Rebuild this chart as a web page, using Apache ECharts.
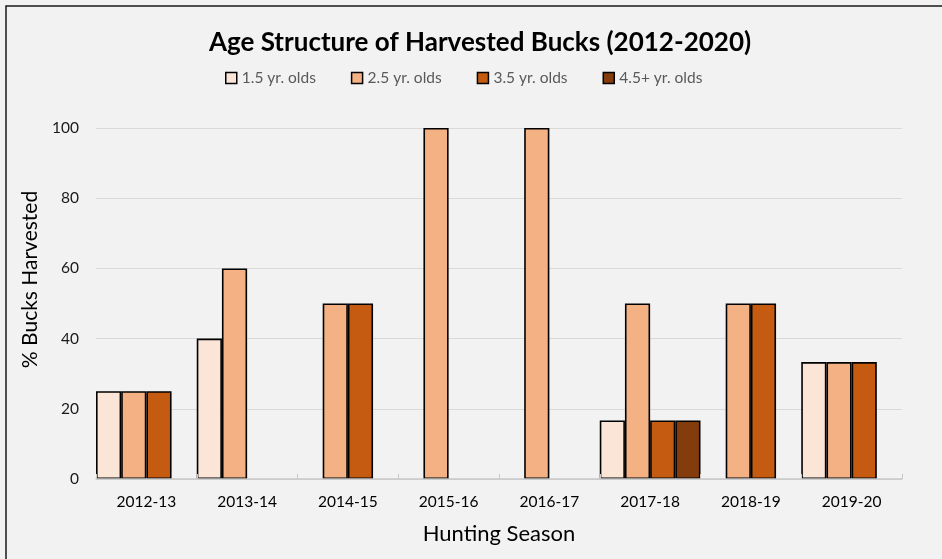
<!DOCTYPE html>
<html>
<head>
<meta charset="utf-8">
<script src="https://cdn.jsdelivr.net/npm/echarts@6/dist/echarts.min.js"></script>
<style>
  html, body { margin: 0; padding: 0; background: #f2f2f2; }
  #chart { width: 942px; height: 559px; }
</style>
</head>
<body>
<div id="chart"></div>
<script>
// Hunting seasons on the x axis
const seasons = ['2012-13', '2013-14', '2014-15', '2015-16', '2016-17', '2017-18', '2018-19', '2019-20'];

// Percent of harvested bucks in each age class, per season
const age15 = [25, 40, 0, 0, 0, 16.7, 0, 33.3];
const age25 = [25, 60, 50, 100, 100, 50, 50, 33.3];
const age35 = [25, 0, 50, 0, 0, 16.7, 50, 33.3];
const age45 = [0, 0, 0, 0, 0, 16.7, 0, 0];

const seriesNames = ['1.5 yr. olds', '2.5 yr. olds', '3.5 yr. olds', '4.5+ yr. olds'];
const seriesColors = ['#fbe5d6', '#f4b183', '#c55a11', '#843c0c'];
const yTicks = [0, 20, 40, 60, 80, 100];

const FONT = 'Lato, "Open Sans", sans-serif';

// Zero-percent classes keep their slot but are drawn without an outline
function toBarData(values) {
  return values.map(v => v === 0
    ? { value: 0, itemStyle: { borderWidth: 0 } }
    : { value: v });
}

const chart = echarts.init(document.getElementById('chart'));

const series = [age15, age25, age35, age45].map((vals, i) => ({
  name: seriesNames[i],
  type: 'bar',
  data: toBarData(vals),
  barGap: '0%',
  barCategoryGap: '0%',
  itemStyle: { color: seriesColors[i], borderColor: '#000', borderWidth: 1.6 }
}));

chart.setOption({
  backgroundColor: '#f2f2f2',
  animation: false,
  title: {
    text: 'Age Structure of Harvested Bucks (2012-2020)',
    left: 475,
    textAlign: 'center',
    top: 25,
    textStyle: { fontFamily: FONT, fontSize: 26, fontWeight: 'bold', color: '#000' }
  },
  legend: {
    top: 65,
    left: 220,
    itemWidth: 11,
    itemHeight: 11,
    itemGap: 35,
    icon: 'rect',
    itemStyle: { borderColor: '#000', borderWidth: 1.5 },
    textStyle: { fontFamily: FONT, fontSize: 15.5, color: '#595959' },
    data: seriesNames
  },
  grid: { left: 96, right: 40, top: 128, bottom: 80 },
  xAxis: {
    type: 'category',
    data: seasons,
    z: 5,
    name: 'Hunting Season',
    nameLocation: 'middle',
    nameGap: 44,
    nameTextStyle: { fontFamily: FONT, fontSize: 22, color: '#000' },
    axisLine: { lineStyle: { color: '#c8c8c8', width: 1.5 } },
    axisTick: { show: true, inside: true, alignWithLabel: false, length: 5, lineStyle: { color: '#c8c8c8' } },
    axisLabel: { fontFamily: FONT, fontSize: 15.5, color: '#000', margin: 15 }
  },
  yAxis: {
    type: 'value',
    min: 0,
    max: 100,
    interval: 20,
    name: '% Bucks Harvested',
    nameLocation: 'middle',
    nameRotate: 90,
    nameGap: 53,
    nameTextStyle: { fontFamily: FONT, fontSize: 21, color: '#000', padding: [0, 0, 0, 48] },
    axisLine: { show: false },
    axisTick: { show: false },
    axisLabel: {
      fontFamily: FONT, fontSize: 15.5, color: '#1a1a1a', margin: 17,
      formatter: v => yTicks.includes(v) ? String(v) : ''
    },
    splitLine: { lineStyle: { color: '#d9d9d9', width: 1 } }
  },
  graphic: [{
    type: 'rect',
    shape: { x: 6, y: 6, width: 960, height: 580 },
    style: { fill: 'none', stroke: '#1a1a1a', lineWidth: 1.5 },
    silent: true,
    z: 100
  }],
  series: series
});
</script>
</body>
</html>
